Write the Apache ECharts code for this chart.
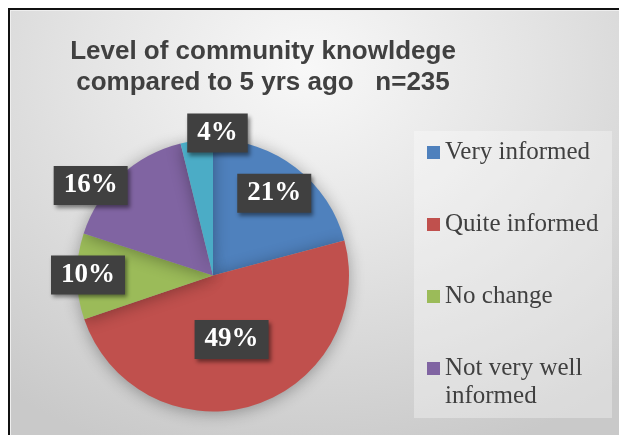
<!DOCTYPE html>
<html>
<head>
<meta charset="utf-8">
<script src="https://cdn.jsdelivr.net/npm/echarts@6/dist/echarts.min.js"></script>
<style>
    html, body { margin: 0; padding: 0; background: #fff; }
    #frame {
        position: absolute; left: 8px; top: 8px; width: 660px; height: 480px;
        border: 2px solid #111;
        box-shadow: inset 1px 1px 0 #eee;
        background: radial-gradient(ellipse 75% 85% at 45% 12%, #f8f8f8 0%, #e4e4e4 45%, #c9c9c9 100%);
    }
    #main { position: absolute; left: 0; top: 0; width: 619px; height: 435px; }
</style>
</head>
<body>
<div id="frame"></div>
<div id="main"></div>
<script>
// 数据
var categories = ['Very informed', 'Quite informed', 'No change', 'Not very well\ninformed', 'Not informed'];
var counts = [49, 115, 24, 38, 9];          // n=235
var legendItems = categories.slice(0, 4);   // 图例只显示前四项
var colors = ['#4f81bd', '#c0504d', '#9bbb59', '#8064a2', '#4bacc6'];

// 标签偏移 (相对 inside 位置)
var labelShift = [[18, -26], [-2, -4], [-54, -1], [-74, -38], [13, -72]];

var pieChart = echarts.init(document.getElementById('main'));
var pieData = [];
for (var i = 0; i < categories.length; i++) {
    pieData.push({ name: categories[i], value: counts[i] });
}

var option = {
    color: colors,
    title: {
        text: 'Level of community knowldege\ncompared to 5 yrs ago   n=235',
        left: 263,
        top: 36,
        padding: 0,
        textAlign: 'center',
        textStyle: {
            fontFamily: 'Liberation Sans, Arial, sans-serif',
            fontSize: 26,
            fontWeight: 'bold',
            color: '#404040',
            lineHeight: 31
        }
    },
    // 图例背景框
    graphic: [{
        type: 'rect',
        left: 414,
        top: 131,
        shape: { width: 198, height: 287 },
        style: { fill: 'rgba(255,255,255,0.32)' },
        silent: true
    }],
    legend: {
        orient: 'vertical',
        left: 427,
        top: 110.5,
        padding: 0,
        itemWidth: 13,
        itemHeight: 13,
        itemGap: -12,
        selectedMode: false,
        data: legendItems,
        icon: 'rect',
        // 每项三行，中间一行对齐图标
        formatter: function (name) {
            return name.indexOf('\n') < 0 ? ' \n' + name + '\n ' : ' \n' + name;
        },
        textStyle: {
            fontFamily: 'Liberation Serif, serif',
            fontSize: 25,
            lineHeight: 28,
            color: '#404040'
        }
    },
    series: [{
        type: 'pie',
        center: [213, 275.5],
        radius: 136,
        startAngle: 90,
        clockwise: true,
        percentPrecision: 0,
        silent: true,
        data: pieData,
        itemStyle: {
            shadowBlur: 16,
            shadowColor: 'rgba(0,0,0,0.32)',
            shadowOffsetY: 2
        },
        label: {
            show: true,
            position: 'inside',
            formatter: '{d}%',
            fontFamily: 'Liberation Serif, serif',
            fontWeight: 'bold',
            fontSize: 27,
            lineHeight: 27,
            color: '#fff',
            backgroundColor: '#404040',
            padding: [6, 10, 6, 10],
            shadowBlur: 4,
            shadowOffsetX: 2,
            shadowOffsetY: 3,
            shadowColor: 'rgba(0,0,0,0.45)'
        },
        labelLine: { show: false },
        labelLayout: function (params) {
            var s = labelShift[params.dataIndex];
            return { dx: s[0], dy: s[1] };
        }
    }]
};
pieChart.setOption(option);
</script>
</body>
</html>
